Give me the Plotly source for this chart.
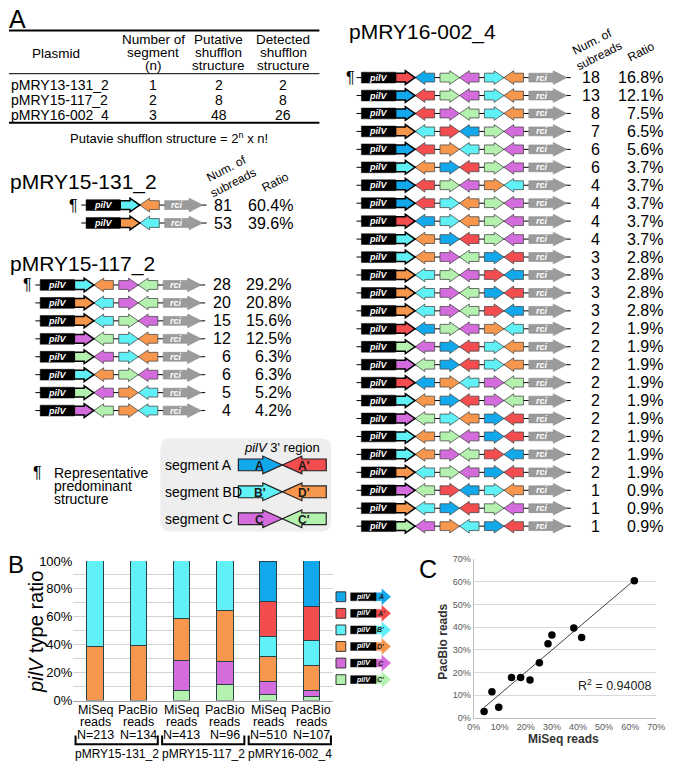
import plotly.graph_objects as go
import numpy as np

W, H = 675, 769
FONT = "Liberation Sans, Arial, sans-serif"

# ---------------- data ----------------
SEG_CODES = ["A", "A'", "B'", "D'", "C", "C'"]
SEG_COLORS = ["#12A9EC", "#F34D50", "#5FF1F6", "#F7974D", "#D56CDD", "#B4F1AF"]
COLOR = dict(zip(SEG_CODES, SEG_COLORS))

# table (panel A)
table_headers = [["Plasmid"], ["Number of", "segment", "(n)"],
                 ["Putative", "shufflon", "structure"], ["Detected", "shufflon", "structure"]]
table_plasmids = ["pMRY13-131_2", "pMRY15-117_2", "pMRY16-002_4"]
table_n = [1, 2, 3]
table_putative = [2, 8, 48]
table_detected = [2, 8, 26]

# shufflon structures
p131_name = "pMRY15-131_2"
p131_rows = [["B'", "D'"], ["D'", "B'"]]
p131_counts = [81, 53]
p131_ratios = ["60.4%", "39.6%"]

p117_name = "pMRY15-117_2"
p117_rows = [["B'", "D'", "C", "C'"], ["D'", "B'", "C", "C'"], ["D'", "B'", "C'", "C"],
             ["C", "C'", "B'", "D'"], ["C'", "C", "B'", "D'"], ["B'", "D'", "C'", "C"],
             ["C'", "C", "D'", "B'"], ["C", "C'", "D'", "B'"]]
p117_counts = [28, 20, 15, 12, 6, 6, 5, 4]
p117_ratios = ["29.2%", "20.8%", "15.6%", "12.5%", "6.3%", "6.3%", "5.2%", "4.2%"]

p002_name = "pMRY16-002_4"
p002_rows = [
    ["A'", "A", "C'", "C", "B'", "D'"], ["A", "A'", "C'", "C", "B'", "D'"],
    ["A", "A'", "C", "C'", "B'", "D'"], ["D'", "B'", "A'", "A", "C'", "C"],
    ["A", "A'", "D'", "B'", "C'", "C"], ["B'", "D'", "A", "A'", "C'", "C"],
    ["A", "A'", "C'", "C", "D'", "B'"], ["A", "A'", "B'", "D'", "C'", "C"],
    ["A'", "A", "B'", "D'", "C'", "C"], ["B'", "D'", "A", "A'", "C'", "C"],
    ["B'", "D'", "C", "C'", "A", "A'"], ["D'", "B'", "C'", "C", "A'", "A"],
    ["D'", "B'", "C", "C'", "A", "A'"], ["D'", "B'", "C", "C'", "A'", "A"],
    ["A'", "A", "C'", "C", "D'", "B'"], ["C'", "C", "A", "A'", "B'", "D'"],
    ["C", "C'", "A", "A'", "B'", "D'"], ["A'", "A", "D'", "B'", "C", "C'"],
    ["B'", "D'", "A", "A'", "C", "C'"], ["C", "C'", "B'", "D'", "A", "A'"],
    ["B'", "D'", "C'", "C", "A", "A'"], ["B'", "D'", "C", "C'", "A'", "A"],
    ["D'", "B'", "C'", "C", "A", "A'"], ["C", "C'", "A'", "A", "B'", "D'"],
    ["D'", "B'", "A", "A'", "C'", "C"], ["C'", "C", "D'", "B'", "A", "A'"]]
p002_counts = [18, 13, 8, 7, 6, 6, 4, 4, 4, 4, 3, 3, 3, 3, 2, 2, 2, 2, 2, 2, 2, 2, 2, 1, 1, 1]
p002_ratios = ["16.8%", "12.1%", "7.5%", "6.5%", "5.6%", "3.7%", "3.7%", "3.7%", "3.7%", "3.7%",
               "2.8%", "2.8%", "2.8%", "2.8%", "1.9%", "1.9%", "1.9%", "1.9%", "1.9%", "1.9%",
               "1.9%", "1.9%", "1.9%", "0.9%", "0.9%", "0.9%"]

legend_segments = [("segment A", "A", "A'"), ("segment BD", "B'", "D'"), ("segment C", "C", "C'")]

# panel B (pilV type ratio, %)
bar_method = ["MiSeq", "PacBio", "MiSeq", "PacBio", "MiSeq", "PacBio"]
bar_N = ["N=213", "N=134", "N=413", "N=96", "N=510", "N=107"]
bar_groups = ["pMRY15-131_2", "pMRY15-117_2", "pMRY16-002_4"]
ratio_Cp = [0, 0, 7.0, 11.5, 4.0, 2.8]
ratio_C = [0, 0, 21.6, 16.7, 9.6, 4.7]
ratio_Dp = [38.4, 39.6, 30.0, 36.5, 18.0, 17.8]
ratio_Bp = [61.6, 60.4, 41.4, 35.4, 14.5, 17.8]
ratio_Ap = [0, 0, 0, 0, 25.2, 24.3]
ratio_A = [0, 0, 0, 0, 28.5, 32.7]
stack = [("C'", ratio_Cp), ("C", ratio_C), ("D'", ratio_Dp), ("B'", ratio_Bp), ("A'", ratio_Ap), ("A", ratio_A)]
y_ticks = [0, 20, 40, 60, 80, 100]
y_ticktext = ["0%", "20%", "40%", "60%", "80%", "100%"]
y_minor = [10, 30, 50, 70, 90]

r2_text = "R<sup>2</sup> = 0.94008"

# ---------------- helpers ----------------
shapes, annotations = [], []


def X(x):
    return x / W


def Y(y):
    return 1 - y / H


def poly(pts):
    return "M " + " L ".join(f"{X(a):.5f},{Y(b):.5f}" for a, b in pts) + " Z"


def add_poly(pts, fill, lc, lw):
    shapes.append(dict(type="path", xref="paper", yref="paper", path=poly(pts),
                       fillcolor=fill, line=dict(color=lc, width=lw), layer="above"))


def add_line(x0, y0, x1, y1, color="black", w=1):
    shapes.append(dict(type="line", xref="paper", yref="paper", x0=X(x0), y0=Y(y0),
                       x1=X(x1), y1=Y(y1), line=dict(color=color, width=w), layer="above"))


def text(x, y, s, size=14, xanchor="center", color="black", angle=0, xref="paper"):
    annotations.append(dict(x=(x if xref != "paper" else X(x)), y=Y(y), xref=xref, yref="paper",
                            text=s, showarrow=False, xanchor=xanchor, yanchor="middle",
                            textangle=angle, borderpad=0,
                            font=dict(family=FONT, size=size, color=color)))


def arrow(xa, xb, yc, right, fill, lc, lw, bh=4.5, hh=7.0, hl=None):
    hl = hl if hl is not None else (xb - xa) * 0.5
    if right:
        pts = [(xa, yc - bh), (xb - hl, yc - bh), (xb - hl, yc - hh), (xb, yc),
               (xb - hl, yc + hh), (xb - hl, yc + bh), (xa, yc + bh)]
    else:
        pts = [(xb, yc - bh), (xa + hl, yc - bh), (xa + hl, yc - hh), (xa, yc),
               (xa + hl, yc + hh), (xa + hl, yc + bh), (xb, yc + bh)]
    add_poly(pts, fill, lc, lw)


def draw_row(x0, yc, segs, pil_w=35, seg_w=20, gap=5.5):
    p0 = x0 + 5
    p1 = p0 + pil_w
    xs = p1
    pos = []
    for i, s in enumerate(segs):
        if i > 0 and i % 2 == 0:
            xs += gap
        pos.append((xs, xs + seg_w, i % 2 == 0, s))
        xs += seg_w
    r0 = xs + gap
    r1 = r0 + 39
    add_line(x0, yc, r1 + 4, yc, "black", 1)
    for k, (a, b, right, s) in enumerate(pos):
        if k > 0:
            arrow(a, b, yc, right, COLOR[s], "#4A4A4A", 0.8)
    a, b, right, s = pos[0]
    arrow(a, b, yc, right, COLOR[s], "black", 1.5)
    add_poly([(p0, yc - 5.5), (p1, yc - 5.5), (p1, yc + 5.5), (p0, yc + 5.5)], "black", "black", 0.5)
    text((p0 + p1) / 2, yc, "<b><i>pilV</i></b>", 9, color="white")
    arrow(r0, r1, yc, True, "#9B9B9B", "#8C8C8C", 0.6, hl=14)
    text(r0 + 13, yc, "<b><i>rci</i></b>", 9, color="white")


# ---------------- panel A : table ----------------
text(11, 12, "A", 25)
add_line(2, 24, 320, 24, "black", 2)
add_line(2, 68, 320, 68, "black", 1)
add_line(2, 118, 320, 118, "black", 2)
col_x = [50, 150, 217, 283]
for ci, lines in enumerate(table_headers):
    ys = [47] if len(lines) == 1 else [33, 46.5, 60]
    for ln, yy in zip(lines, ys):
        text(col_x[ci], yy, ln, 13.5)
for ri in range(len(table_plasmids)):
    yy = 80 + ri * 15
    text(3, yy, table_plasmids[ri], 14, xanchor="left")
    text(col_x[1], yy, str(table_n[ri]), 14)
    text(col_x[2], yy, str(table_putative[ri]), 14)
    text(col_x[3], yy, str(table_detected[ri]), 14)
text(166, 134, "Putavie shufflon structure = 2<sup>n</sup> x n!", 13)

# ---------------- panel A : structures ----------------
ROW_STEP = 18.3


def block(name, title_xy, x0, y0, rows, counts, ratios, cnt_x, rat_x, para_x, header=None):
    text(title_xy[0], title_xy[1], name, 21, xanchor="left")
    if header:
        text(header[0], header[1], "Num. of<br>subreads", 12, angle=-27)
        text(header[2], header[3], "Ratio", 12, angle=-27)
    for i, segs in enumerate(rows):
        yc = y0 + i * ROW_STEP
        draw_row(x0, yc, segs)
        text(cnt_x, yc, str(counts[i]), 16, xanchor="right")
        text(rat_x, yc, ratios[i], 16, xanchor="right")
    text(para_x, y0, "¶", 16)


block(p131_name, (2, 178), 76, 202, p131_rows, p131_counts, p131_ratios, 231, 294, 68,
      header=(228, 172, 275, 178))
block(p117_name, (2, 262), 29, 283.5, p117_rows, p117_counts, p117_ratios, 230, 292, 21)
block(p002_name, (349, 25), 358, 72, p002_rows, p002_counts, p002_ratios, 608, 673, 352,
      header=(603, 43, 649, 46))

# legend box of panel A
bx0, bx1, by0, by1, rr = 157, 332, 440, 535, 10
rounded = (f"M {X(bx0 + rr):.5f},{Y(by0):.5f} L {X(bx1 - rr):.5f},{Y(by0):.5f} "
           f"Q {X(bx1):.5f},{Y(by0):.5f} {X(bx1):.5f},{Y(by0 + rr):.5f} "
           f"L {X(bx1):.5f},{Y(by1 - rr):.5f} Q {X(bx1):.5f},{Y(by1):.5f} {X(bx1 - rr):.5f},{Y(by1):.5f} "
           f"L {X(bx0 + rr):.5f},{Y(by1):.5f} Q {X(bx0):.5f},{Y(by1):.5f} {X(bx0):.5f},{Y(by1 - rr):.5f} "
           f"L {X(bx0):.5f},{Y(by0 + rr):.5f} Q {X(bx0):.5f},{Y(by0):.5f} {X(bx0 + rr):.5f},{Y(by0):.5f} Z")
shapes.append(dict(type="path", xref="paper", yref="paper", path=rounded, fillcolor="#EEEEEE",
                   line=dict(width=0), layer="above"))
text(282, 449, "<i>pilV</i> 3' region", 13)
for i, (lab, s1, s2) in enumerate(legend_segments):
    yc = 467 + i * 27.5
    text(161, yc, lab, 14, xanchor="left")
    arrow(237, 282, yc, True, COLOR[s1], "#222222", 1.2, bh=6, hh=9, hl=20)
    arrow(282, 327, yc, False, COLOR[s2], "#222222", 1.2, bh=6, hh=9, hl=20)
    text(259, yc + 1, f"<b>{s1}</b>", 12, color="#1A1A1A")
    text(304, yc + 1, f"<b>{s2}</b>", 12, color="#1A1A1A")
text(31, 475, "¶", 16)
for k, ln in enumerate(["Representative", "predominant", "structure"]):
    text(47, 475 + k * 13.5, ln, 14, xanchor="left")

# ---------------- panel B ----------------
text(9, 569, "B", 24)
text(29, 637, "<i>pilV</i> type ratio", 20, angle=-90)
bar_x = list(range(len(bar_method)))
traces = []
for code, vals in stack:
    traces.append(go.Bar(x=bar_x, y=[v if v > 0 else None for v in vals], width=0.38,
                         marker=dict(color=COLOR[code], line=dict(color="#2B4148", width=1)),
                         xaxis="x", yaxis="y", showlegend=False, hoverinfo="skip"))
for i in bar_x:
    text(i, 717, bar_method[i], 12.5, xref="x")
    text(i, 729.5, "reads", 12.5, xref="x")
    text(i, 742, bar_N[i], 12.5, xref="x")
for g, name in enumerate(bar_groups):
    xa, xb = 2 * g - 0.45, 2 * g + 1.45
    shapes.append(dict(type="path", xref="x", yref="paper",
                       path=f"M {xa},{Y(743):.5f} L {xa},{Y(752):.5f} L {xb},{Y(752):.5f} L {xb},{Y(743):.5f}",
                       line=dict(color="black", width=2), layer="above"))
    text(2 * g + 0.5, 762, name, 12, xref="x")

# legend of panel B
for i, code in enumerate(SEG_CODES):
    yc = 601.5 + i * 16.9
    add_poly([(337, yc - 5), (347, yc - 5), (347, yc + 5), (337, yc + 5)], COLOR[code], "#333333", 1)
    arrow(376, 393, yc, True, COLOR[code], COLOR[code], 0.5, bh=4, hh=8, hl=9)
    add_poly([(352, yc - 4), (378, yc - 4), (378, yc + 4), (352, yc + 4)], "black", "black", 0.5)
    text(365, yc, "<b><i>pilV</i></b>", 7, color="white")
    text(383, yc, f"<b><i>{code}</i></b>", 7, color="#222222")

# ---------------- panel C ----------------
idx = [(c, i) for c, vals in stack for i in range(0, len(vals), 2) if vals[i] > 0]
miseq = np.array([dict(stack)[c][i] for c, i in idx])
pacbio = np.array([dict(stack)[c][i + 1] for c, i in idx])
slope, icpt = np.polyfit(miseq, pacbio, 1)
xl = np.array([miseq.min(), miseq.max()])
traces.append(go.Scatter(x=xl, y=slope * xl + icpt, mode="lines", line=dict(color="#404040", width=1),
                         xaxis="x2", yaxis="y2", showlegend=False, hoverinfo="skip"))
traces.append(go.Scatter(x=miseq, y=pacbio, mode="markers", marker=dict(color="black", size=7.5),
                         xaxis="x2", yaxis="y2", showlegend=False))
text(431, 573, "C", 25)
text(570, 747, "<b>MiSeq reads</b>", 12, color="#333333")
text(447, 647, "<b>PacBio reads</b>", 12, color="#333333", angle=-90)
text(661, 691, r2_text, 12.5, xanchor="right", color="#222222")

fig = go.Figure(traces)
fig.update_layout(
    width=W, height=H, margin=dict(l=0, r=0, t=0, b=0, pad=0),
    paper_bgcolor="white", plot_bgcolor="white", barmode="stack",
    font=dict(family=FONT, color="black"),
    shapes=shapes, annotations=annotations,
    xaxis=dict(domain=[X(68), X(334)], range=[-0.5, 5.5], showticklabels=False, showgrid=False,
               zeroline=False, showline=True, linecolor="#A0A0A0", linewidth=1, anchor="y", fixedrange=True),
    yaxis=dict(domain=[Y(707.3), Y(565)], range=[0, 100], tickvals=y_ticks, ticktext=y_ticktext,
               showgrid=True, gridcolor="#D3D3D3", gridwidth=1, zeroline=False, showline=False,
               minor=dict(tickvals=y_minor, showgrid=True, gridcolor="#D3D3D3", gridwidth=1, ticks=""),
               tickfont=dict(size=13, color="black"), anchor="x", ticks="", fixedrange=True),
    xaxis2=dict(domain=[X(478), X(665)], range=[0, 70], dtick=10, ticksuffix="%", showgrid=False,
                zeroline=False, showline=True, linecolor="#BFBFBF", anchor="y2",
                tickfont=dict(size=9, color="#595959"), ticks="", fixedrange=True),
    yaxis2=dict(domain=[Y(725), Y(563)], range=[0, 70], dtick=10, ticksuffix="%", showgrid=True,
                gridcolor="#D9D9D9", zeroline=False, showline=True, linecolor="#BFBFBF", anchor="x2",
                tickfont=dict(size=9, color="#595959"), ticks="", fixedrange=True),
)
fig.write_html("out.html", config={"displayModeBar": False},
               post_script="document.body.style.margin='0px';document.body.style.padding='0px';"
                           "document.documentElement.style.overflow='hidden';"
                           "document.body.style.overflow='hidden';")
